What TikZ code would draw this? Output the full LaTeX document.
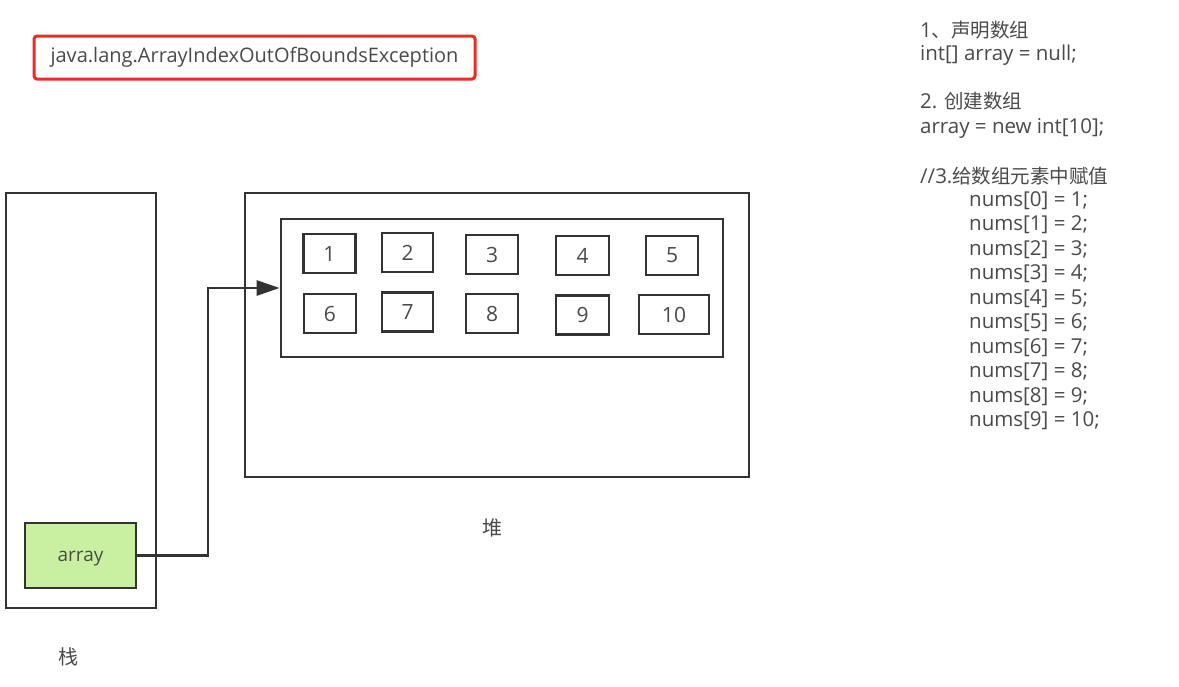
\documentclass[tikz,border=0pt]{standalone}
\usepackage{fontspec}
\setmainfont{Open Sans}
\newfontfamily\cjk{Noto Sans CJK SC}
\usetikzlibrary{arrows.meta}
\definecolor{ln}{HTML}{333333}
\definecolor{tx}{HTML}{4A4A4A}
\definecolor{grn}{HTML}{C8F0A0}
\definecolor{rd}{HTML}{EE2A24}
\begin{document}
\begin{tikzpicture}[x=1pt,y=-1pt,
  box/.style={draw=ln,line width=2.8pt,inner sep=0pt},
  cell/.style={box,minimum height=39pt,text=tx,font=\fontsize{21}{22}\selectfont},
  code/.style={anchor=base west,inner sep=0pt,text=tx,font=\fontsize{20.5}{22}\selectfont},
  lbl/.style={text=tx,inner sep=0pt,font=\fontsize{20}{22}\selectfont\cjk},
  link/.style={draw=ln,line width=2.8pt,-{Triangle[length=23pt,width=15pt]}}]
\useasboundingbox[fill=white] (0,0) rectangle (1179,686);
% exception label
\node[draw=rd,line width=3pt,rounded corners=3pt,minimum width=441pt,minimum height=43pt,inner sep=0pt,text=tx,font=\fontsize{20}{22}\selectfont] (exc) at (254.5,57.5) {java.lang.ArrayIndexOutOfBoundsException};
% stack
\node[box,minimum width=150pt,minimum height=415pt] (stack) at (81,400.5) {};
\node[box,fill=grn,minimum width=111pt,minimum height=65pt] (arr) at (80.5,555.5) {};
\node[text=tx,inner sep=0pt,font=\fontsize{19}{22}\selectfont] (arrt) at (80.5,559) {array};
\node[lbl] (zhan) at (68,657) {栈};
% heap
\node[box,minimum width=504pt,minimum height=284pt] (heap) at (497,335) {};
\node[box,minimum width=442pt,minimum height=138pt] (inner) at (502,288) {};
\node[lbl] (dui) at (492,528) {堆};
% cells
\node[cell,minimum width=52pt] (c1) at (329.5,253.5) {1};
\node[cell,minimum width=51pt] (c2) at (407.5,252.5) {2};
\node[cell,minimum width=52pt] (c3) at (492,254.5) {3};
\node[cell,minimum width=53pt] (c4) at (582.5,255.5) {4};
\node[cell,minimum width=52pt] (c5) at (672,255.5) {5};
\node[cell,minimum width=52pt] (c6) at (330,313.5) {6};
\node[cell,minimum width=51pt] (c7) at (407.5,312) {7};
\node[cell,minimum width=52pt] (c8) at (492,313.5) {8};
\node[cell,minimum width=53pt] (c9) at (582.5,315) {9};
\node[cell,minimum width=70pt] (c10) at (674,314.5) {10};
% pointer
\coordinate (bend1) at (208,555.5);
\coordinate (bend2) at (208,288);
\draw[link] (arr.east) -- (bend1) -- (bend2) -- (inner.west);
% code
\node[code] (t1) at (920,37) {1{\fontsize{19.5}{22}\cjk 、声明数组}};
\node[code] (t2) at (920,60) {int[] array = null;};
\node[code] (t3) at (920,108) {2. {\fontsize{19.5}{22}\cjk 创建数组}};
\node[code] (t4) at (920,133) {array = new int[10];};
\node[code] (t5) at (920,183) {//3.{\fontsize{19.5}{22}\cjk 给数组元素中赋值}};
\node[code] (n0) at (969,206) {nums[0] = 1;};
\node[code] (n1) at (969,230.5) {nums[1] = 2;};
\node[code] (n2) at (969,255) {nums[2] = 3;};
\node[code] (n3) at (969,279.5) {nums[3] = 4;};
\node[code] (n4) at (969,304) {nums[4] = 5;};
\node[code] (n5) at (969,328.5) {nums[5] = 6;};
\node[code] (n6) at (969,353) {nums[6] = 7;};
\node[code] (n7) at (969,377.5) {nums[7] = 8;};
\node[code] (n8) at (969,402) {nums[8] = 9;};
\node[code] (n9) at (969,426.5) {nums[9] = 10;};
\end{tikzpicture}
\end{document}
